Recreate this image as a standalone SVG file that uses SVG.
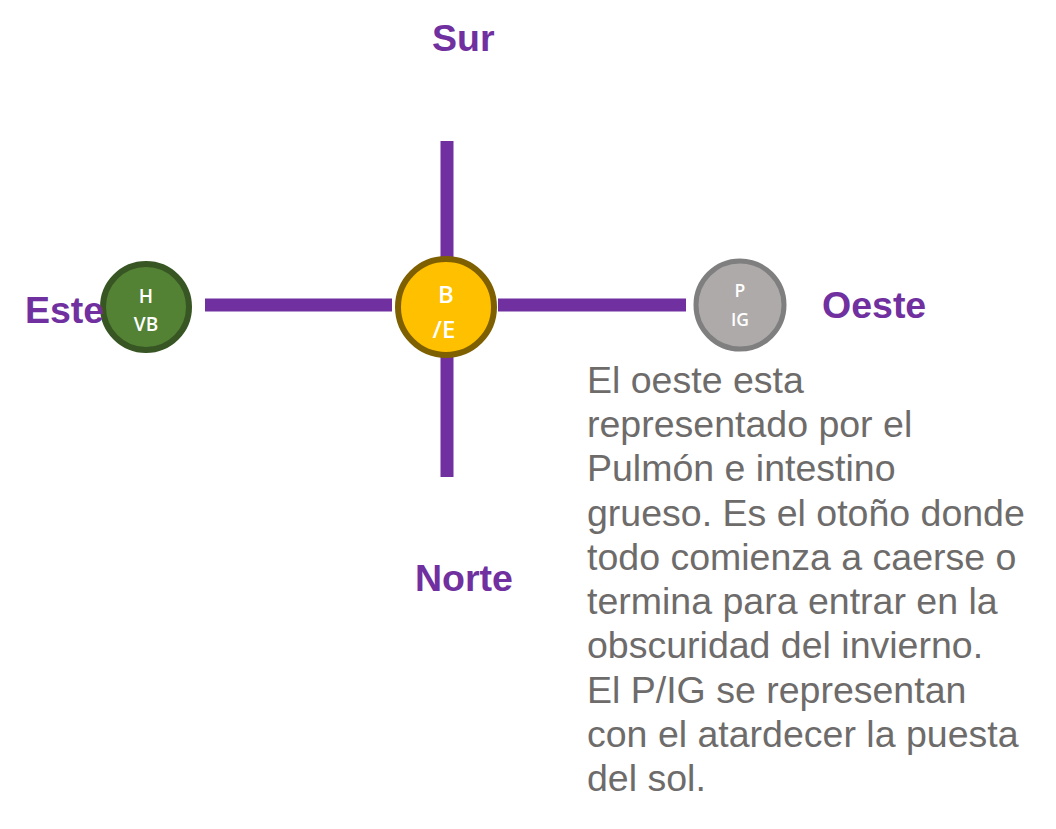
<svg xmlns="http://www.w3.org/2000/svg" width="1056" height="829" viewBox="0 0 1056 829">
<style>
.dir{font-family:"Liberation Sans",Arial,sans-serif;font-weight:bold;font-size:37.5px;fill:#7030A0}
.nt{font-family:"Open Sans","Noto Sans",sans-serif;font-weight:600;fill:#fff;text-anchor:middle}
.para{font-family:"Liberation Sans",Arial,sans-serif;font-size:37.5px;fill:#6E6B6B}
.ax{stroke:#7030A0;stroke-width:13;fill:none}
</style>
<rect width="1056" height="829" fill="#fff"/>
<g id="connectors">
<line class="ax" x1="447" y1="141" x2="447" y2="477"/>
<line class="ax" x1="205" y1="305" x2="392" y2="305"/>
<line class="ax" x1="498" y1="305" x2="686" y2="305"/>
</g>
<g id="node-hvb">
<circle cx="146" cy="307" r="43" fill="#548235" stroke="#375623" stroke-width="6"/>
<text class="nt" x="146" y="303" font-size="19">H</text>
<text class="nt" x="146" y="331" font-size="19">VB</text>
</g>
<g id="node-be">
<circle cx="446" cy="307" r="48" fill="#FFC000" stroke="#7F6000" stroke-width="6"/>
<text class="nt" x="446" y="303" font-size="24">B</text>
<text class="nt" x="444" y="338" font-size="24">/E</text>
</g>
<g id="node-pig">
<circle cx="740" cy="305" r="44" fill="#AEAAAA" stroke="#7F7F7F" stroke-width="5"/>
<text class="nt" x="740" y="297" font-size="17.5">P</text>
<text class="nt" x="740" y="326" font-size="17.5">IG</text>
</g>
<g id="labels">
<text class="dir" x="432" y="51">Sur</text>
<text class="dir" x="25" y="323">Este</text>
<text class="dir" x="822" y="318">Oeste</text>
<text class="dir" x="415" y="591">Norte</text>
</g>
<g id="description">
<text class="para" x="587" y="393">El oeste esta</text>
<text class="para" x="587" y="437">representado por el</text>
<text class="para" x="587" y="481">Pulmón e intestino</text>
<text class="para" x="587" y="526">grueso. Es el otoño donde</text>
<text class="para" x="587" y="570">todo comienza a caerse o</text>
<text class="para" x="587" y="614">termina para entrar en la</text>
<text class="para" x="587" y="658">obscuridad del invierno.</text>
<text class="para" x="587" y="703">El P/IG se representan</text>
<text class="para" x="587" y="747">con el atardecer la puesta</text>
<text class="para" x="587" y="791">del sol.</text>
</g>
</svg>
